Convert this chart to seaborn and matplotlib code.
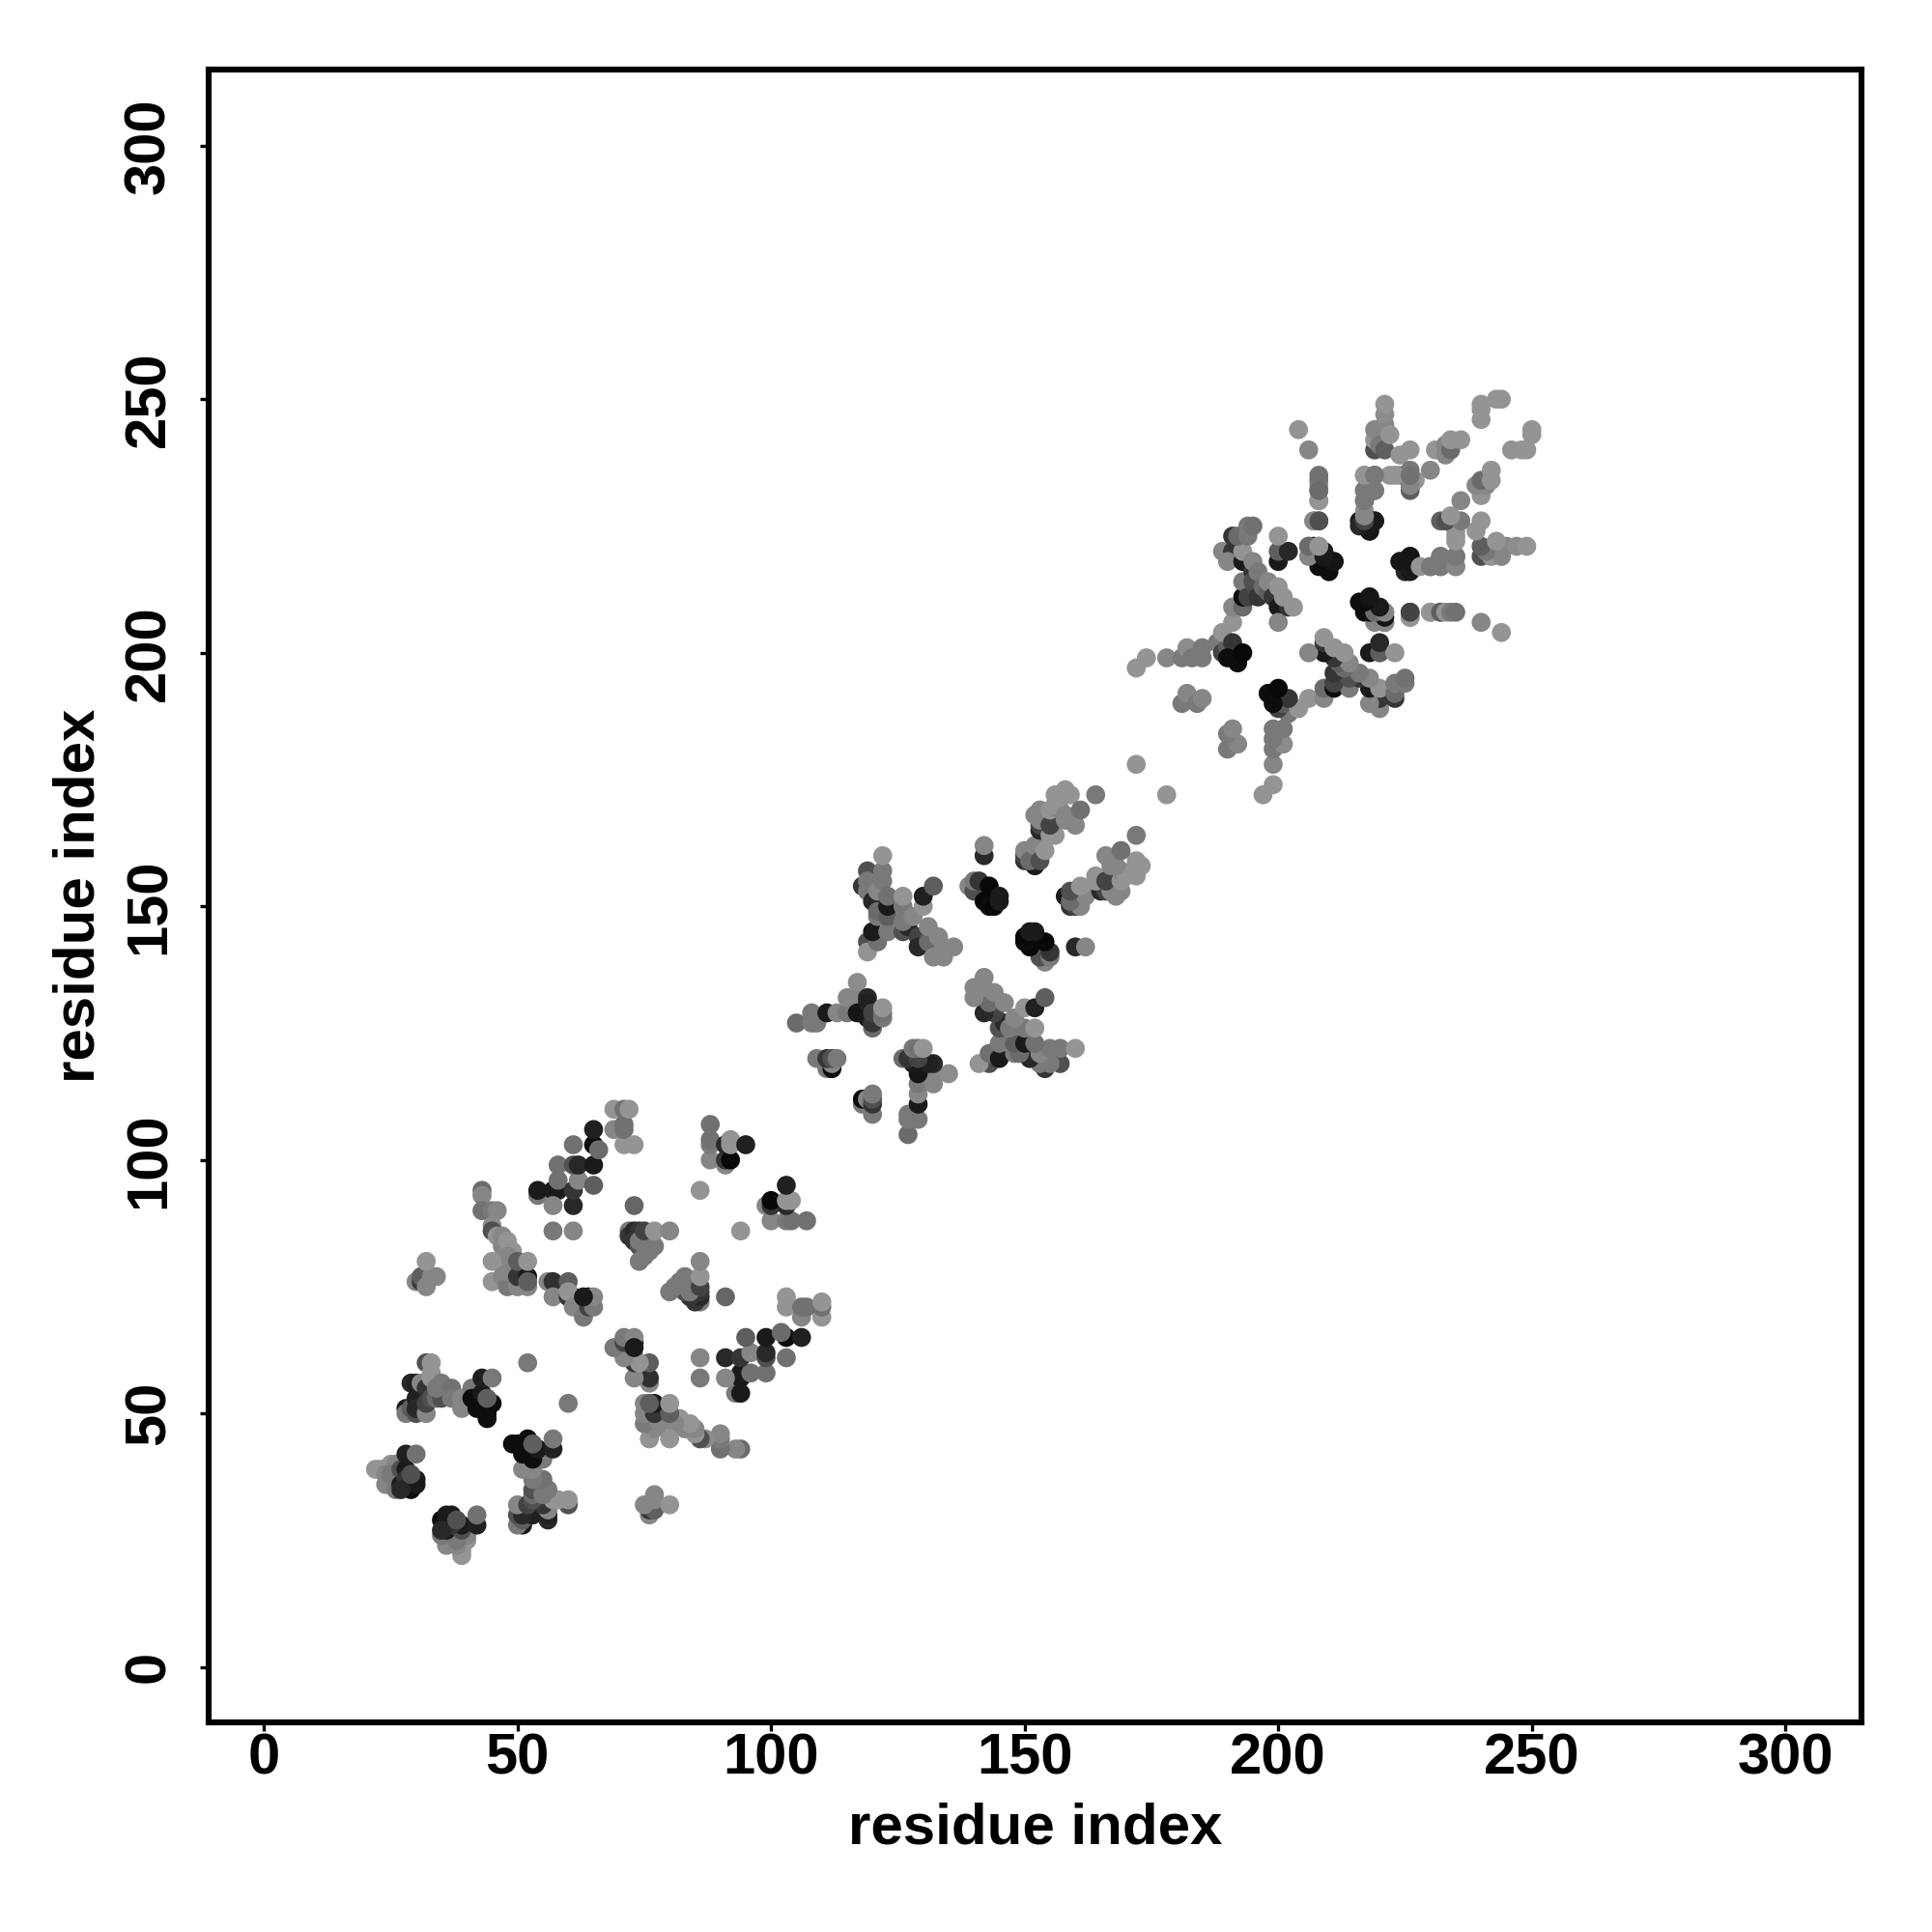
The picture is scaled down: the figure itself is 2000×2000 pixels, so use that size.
import pandas as pd
import matplotlib
matplotlib.use("Agg")
import matplotlib.pyplot as plt
import seaborn as sns

# contacts as (residue i, residue j, grey level), i < j
# the map is symmetric so each one is drawn on both sides of the diagonal
domain1_a = [(22,39,.55),(23,39,.55),(25,40,.55),(24,36,.5),(24,38,.5),(26,40,.5),(26,38,.5),(25,38,.45),(26,35,.45),
             (27,36,.1),(27,39,.3),(28,39,.1),(28,37,.2),(29,35,.05),(30,36,.1),(30,37,.1),(27,35,.15),(29,38,.3),
             (28,42,.12),(30,42,.42)]
domain1_c = [(28,51,.1),(28,50,.45),(29,56,.15),(29,51,.35),(30,53,.12),(30,50,.3),(30,51,.15),(30,56,.12),(31,56,.5),
             (32,50,.5),(32,52,.25),(32,55,.2),(32,60,.3),(33,57,.55),(33,53,.3),(33,60,.55),(33,58,.55),(34,53,.4),(35,53,.3),
             (34,55,.45),(35,56,.45),(37,55,.42),(37,53,.45),(39,53,.5),(39,51,.5),(41,55,.45),(41,53,.05),(42,51,.05),(43,51,.05),
             (44,49,.05),(44,51,.05),(43,54,.1),(44,50,.05),(45,52,.05),(44,53,.35),(43,57,.12),(45,57,.45)]
domain1_e = [(30,76,.5),(31,76,.2),(31,77,.35),(32,75,.5),(33,77,.5),(34,77,.5),(32,80,.55)]
domain1_f = [(54,93,.45),(54,94,.1),(57,94,.1),(58,94,.1),(57,91,.5),(61,91,.15),(58,96,.42),(58,99,.42),(61,94,.2),
             (62,96,.5),(61,99,.3),(62,99,.15),(65,99,.1),(65,95,.35),(61,103,.42),(65,103,.05),(65,106,.12),(66,102,.4)]
domain1_g = [(69,106,.5),(69,110,.55),(71,103,.55),(71,106,.42),(71,107,.42),(71,110,.42),(73,103,.55),(72,110,.55)]
domain1_h = [(88,100,.5),(88,103,.45),(88,104,.42),(88,107,.42),(91,99,.5),(91,100,.2),(91,103,.15),(92,100,.03),
             (92,103,.55),(92,104,.55),(95,103,.12)]
domain1_j = [(43,94,.4),(43,93,.5),(43,90,.42),(45,90,.45),(46,90,.5),(45,87,.52),(45,86,.3),(46,85,.55),(47,85,.5),(47,83,.5),
             (48,84,.55),(49,82,.55),(48,81,.5),(45,80,.55),(45,76,.55),(47,77,.5),(48,75,.45),(48,78,.5),(50,75,.5),(50,77,.2),
             (50,80,.35),(52,77,.1),(52,75,.5),(52,76,.35),(52,80,.55)]
domain1_k = [(56,76,.5),(57,76,.18),(57,73,.5),(60,76,.35),(60,73,.2),(61,73,.1),(60,74,.55),(61,71,.5),(63,69,.45),
             (64,73,.05),(64,71,.25),(65,71,.45),(65,73,.5),(63,73,.1)]
domain1_l = [(72,86,.45),(72,85,.2),(73,86,.15),(73,84,.2),(74,86,.2),(74,83,.3),(74,84,.45),(75,86,.25),(74,80,.45),
             (75,81,.45),(76,82,.45),(77,83,.45),(77,86,.55),(80,86,.5)]
domain1_single = [(52,60,.45),(73,91,.38),(86,94,.55),(57,86,.45),(61,86,.5)]

domain2_t = [(105,127,.4),(108,129,.45),(108,127,.45),(109,127,.45),(111,129,.1),(113,129,.5),(115,129,.45),
             (115,132,.5),(117,132,.5),(117,135,.52),(117,129,.08),(119,132,.15),(119,131,.12),(119,128,.1),
             (120,126,.4),(120,127,.2),(120,129,.25),(122,128,.45),(122,129,.42),(122,130,.55)]
domain2_u = [(109,120,.45),(111,118,.45),(112,118,.05),(112,119,.5),(111,120,.2),(112,120,.3),(113,120,.45)]
domain2_y = [(118,154,.2),(119,157,.3),(119,155,.45),(119,153,.45),(120,151,.15),(119,143,.3),(119,141,.55),
             (121,143,.42),(120,145,.1),(121,148,.45),(121,149,.4),(121,153,.5),(122,155,.45),(122,157,.45),(122,160,.55),
             (123,145,.45),(123,148,.35),(123,150,.1),(123,152,.42),(126,145,.3),(127,146,.15),(126,147,.45),(126,150,.45),
             (126,152,.55),(128,148,.5),(129,144,.25),(129,142,.15),(131,143,.4),(131,146,.5),(130,150,.55),(130,152,.12),
             (132,154,.35),(132,140,.5),(133,144,.5),(134,140,.5),(134,142,.5),(136,142,.5)]
domain2_z = [(139,154,.5),(140,153,.3),(140,155,.45),(141,155,.2),(142,151,.03),(143,150,.05),(143,154,.03),(144,150,.03),
             (145,151,.1),(145,152,.1),(142,160,.15),(142,162,.5)]
domain2_aa = [(150,159,.2),(150,160,.25),(150,161,.5),(152,158,.1),(151,159,.4),(152,162,.5),(153,159,.3),(154,161,.55),
              (153,165,.15),(153,166,.25),(153,167,.5),(152,168,.5),(153,169,.5),(155,164,.55),(156,164,.55),(155,166,.25),
              (155,169,.55),(157,169,.5),(156,170,.55),(156,172,.55),(158,167,.5),(158,168,.5),(158,172,.55),(159,172,.55),
              (158,173,.55),(160,166,.5),(161,169,.42),(164,172,.45),(172,178,.55)]

domain3_ac = [(172,197,.55),(174,199,.55),(178,199,.5),(181,199,.45),(182,201,.52),(183,199,.45),(185,199,.45),(185,201,.45)]
domain3_ad = [(188,202,.45),(189,200,.25),(190,201,.35),(189,204,.55),(191,202,.2),(191,206,.55),(190,199,.05),
              (192,198,.05),(193,200,.03)]
domain3_ae = [(181,190,.45),(182,192,.5),(184,190,.45),(185,191,.5)]
domain3_ai = [(189,220,.5),(191,220,.2),(191,223,.2),(190,218,.5),(191,209,.5),(193,209,.4),(193,211,.05),(193,214,.45),
              (193,218,.1),(193,220,.55),(192,223,.4),(194,223,.45),(194,225,.45),(195,225,.42),(194,211,.25),(195,216,.2),
              (195,214,.3),(195,218,.5),(196,211,.2),(196,216,.45),(197,213,.4),(198,212,.35),(198,214,.5),(199,211,.2),
              (200,209,.1),(200,213,.55),(200,206,.5),(202,209,.2),(201,211,.55),(203,209,.55)]
domain3_aj = [(200,218,.1),(200,220,.35),(202,220,.15),(200,223,.55)]
domain3_ak = [(206,221,.5),(207,221,.08),(208,218,.05),(208,219,.4),(208,221,.5),(209,220,.1),(210,217,.05),(211,218,.08)]
domain3_strip = [(207,226,.55),(208,226,.25),(208,230,.55),(208,232,.35),(208,233,.55),(208,234,.45),(208,235,.42),
                 (204,244,.55),(206,240,.5)]
domain3_am = [(216,210,.05),(217,208,.05),(218,211,.08),(219,206,.5),(219,209,.1),(221,206,.4),(221,208,.55),
              (218,224,.08),(216,226,.1),(217,226,.1),(218,226,.08),(219,226,.08),(217,228,.55),(217,230,.45),
              (217,232,.45),(219,232,.45),(217,235,.5),(219,235,.45)]
domain3_al = [(224,218,.08),(225,216,.15),(225,218,.1),(226,219,.1),(226,217,.25),(226,207,.5),(226,208,.3),
              (227,217,.5),(230,208,.55),(232,208,.4),(230,217,.45),(232,217,.45),(232,219,.45),(235,217,.55),
              (235,219,.45),(232,226,.35),(233,226,.5),(235,223,.55),(235,226,.42)]
domain3_top = [(219,240,.3),(219,242,.55),(219,244,.5),(220,241,.45),(221,240,.35),(221,245,.5),(221,247,.52),(221,249,.55),
               (222,243,.55),(224,239,.55),(226,240,.55),(222,235,.55),(224,235,.55),(226,233,.3),(226,236,.45),
               (227,234,.55),(230,236,.5),(231,240,.55),(233,239,.5),(233,241,.5),(234,240,.4),(234,242,.55),
               (236,242,.55),(240,246,.55),(240,248,.55),(240,249,.55),(243,250,.55),(244,250,.55)]

tick_values = [0, 50, 100, 150, 200, 250, 300]

all_clusters = [domain1_a, domain1_c, domain1_e, domain1_f, domain1_g, domain1_h, domain1_j, domain1_k, domain1_l,
                domain1_single, domain2_t, domain2_u, domain2_y, domain2_z, domain2_aa, domain3_ac, domain3_ad,
                domain3_ae, domain3_ai, domain3_aj, domain3_ak, domain3_strip, domain3_am, domain3_al, domain3_top]

rows = []
for cluster in all_clusters:
    rows.extend(cluster)
df = pd.DataFrame(rows, columns=["i", "j", "grey"])

# both halves of the contact map
upper = df.rename(columns={"i": "x", "j": "y"})
lower = df.rename(columns={"j": "x", "i": "y"})
contacts = pd.concat([upper, lower], ignore_index=True)

sns.set_style("white")
plt.rcParams["font.family"] = ["Liberation Sans", "DejaVu Sans"]
plt.rcParams["font.weight"] = "bold"

fig = plt.figure(figsize=(10, 10), dpi=200)
ax = fig.add_axes([0.108, 0.1085, 0.8555, 0.8555])

sns.scatterplot(data=contacts, x="x", y="y", hue="grey", palette="gray", hue_norm=(0, 0.95),
                s=50, linewidth=0, legend=False, ax=ax)

ax.set_xlim(-10.9, 315)
ax.set_ylim(-10.9, 315)
ax.set_xticks(tick_values)
ax.set_yticks(tick_values)
ax.tick_params(axis="both", length=3.1, width=1.2, color="black", labelsize=21.5, labelcolor="black", bottom=True, left=True)
ax.tick_params(axis="x", pad=0.7)
ax.tick_params(axis="y", pad=9)
plt.setp(ax.get_yticklabels(), rotation=90, va="center")
ax.set_xlabel("residue index", fontsize=21.6, fontweight="bold", color="black", labelpad=6)
ax.set_ylabel("residue index", fontsize=21.6, fontweight="bold", color="black", labelpad=6.4)
for spine in ax.spines.values():
    spine.set_visible(True)
    spine.set_color("black")
    spine.set_linewidth(2.2)

plt.savefig("out.png", dpi=200)
